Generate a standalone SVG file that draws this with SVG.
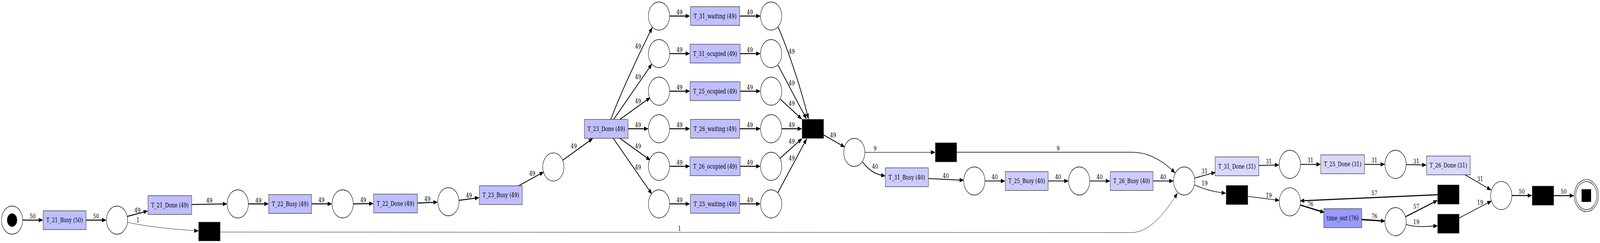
<svg xmlns="http://www.w3.org/2000/svg" width="5428" height="621" viewBox="0 0 5428 621" preserveAspectRatio="none">
<defs>
<style>
svg{width:100vw;height:100vh}
.pl{fill:#fff;stroke:#000;stroke-width:1.3}
.tr{stroke:#333;stroke-width:1.3}
.t1{fill:#bfbfff}.t2{fill:#ccccff}.t3{fill:#d8d8ff}.t4{fill:#9999ff}
.bk{fill:#000;stroke:#333;stroke-width:1}
text{font-family:"DejaVu Serif","Liberation Serif",serif;font-size:16px;fill:#000;text-anchor:middle}
.e{fill:none;stroke:#000;marker-end:url(#ah)}
.w1{stroke-width:1}.w9{stroke-width:1.3}.w19{stroke-width:1.6}.w31{stroke-width:1.9}.w40{stroke-width:2.1}.w49{stroke-width:2.3}.w50{stroke-width:2.4}.w57{stroke-width:2.7}.w76{stroke-width:3.3}
</style>
<marker id="ah" markerUnits="userSpaceOnUse" markerWidth="16" markerHeight="12" refX="0" refY="5.5" orient="auto" overflow="visible"><path d="M0,0 L15,5.5 L0,11 z" fill="#000"/></marker>
</defs>
<rect width="5428" height="621" fill="#fff"/>

<g id="connectors">
<g><path class="e w50" d="M77,562.5 L131.4,562.5"/><text x="110.7" y="558.3">50</text></g>
<g><path class="e w50" d="M292,562.5 L346,562.5"/><text x="325.9" y="558.3">50</text></g>
<g><path class="e w49" d="M432,553 L487.5,541.9"/><text x="466.5" y="542.7">49</text></g>
<g><path class="e w1" d="M433,568 C495,579 590,586 659,589.4"/><text x="467.8" y="567.7">1</text></g>
<g><path class="e w49" d="M650.4,522.7 L756,521.2"/><text x="710.3" y="518.3">49</text></g>
<g><path class="e w49" d="M842.4,521 L896.6,521"/><text x="876.8" y="517.7">49</text></g>
<g><path class="e w49" d="M1057.1,521 L1111.5,521"/><text x="1090.6" y="517">49</text></g>
<g><path class="e w49" d="M1198.2,521 L1252.4,520.5"/><text x="1232.6" y="517">49</text></g>
<g><path class="e w49" d="M1416,519 L1470.3,517"/><text x="1450" y="514.3">49</text></g>
<g><path class="e w49" d="M1557,512 L1611.4,506.5"/><text x="1591" y="505">49</text></g>
<g><path class="e w49" d="M1759.8,474.7 L1831.7,444.8"/><text x="1805.8" y="449.3">49</text></g>
<g><path class="e w49" d="M1909.4,409.3 L1998.8,360.5"/><text x="1946.6" y="379.2">49</text></g>

<g><path class="e w49" d="M2072,305 C2105,240 2160,150 2205.3,81.6"/><text x="2164.7" y="123.6">49</text></g>
<g><path class="e w49" d="M2081.7,305.3 L2202.4,173.5"/><text x="2164.7" y="201.6">49</text></g>
<g><path class="e w49" d="M2102.7,305.3 L2193.9,255.8"/><text x="2164.7" y="263.8">49</text></g>
<g><path class="e w49" d="M2130.8,329 L2185,329"/><text x="2164.7" y="325.2">49</text></g>
<g><path class="e w49" d="M2102.7,353.3 L2193.9,402.8"/><text x="2164.7" y="379">49</text></g>
<g><path class="e w49" d="M2080.3,353.3 L2202.3,486"/><text x="2164.7" y="432.9">49</text></g>

<g><path class="e w49" d="M2271.7,41 L2326,41"/><text x="2305.3" y="37.5">49</text></g>
<g><path class="e w49" d="M2271.7,137 L2326,137"/><text x="2305.3" y="133.5">49</text></g>
<g><path class="e w49" d="M2271.7,233 L2326,233"/><text x="2305.3" y="229.5">49</text></g>
<g><path class="e w49" d="M2271.7,329 L2326,329"/><text x="2305.3" y="325.5">49</text></g>
<g><path class="e w49" d="M2271.7,425 L2326,425"/><text x="2305.3" y="421.5">49</text></g>
<g><path class="e w49" d="M2271.7,521 L2326,521"/><text x="2305.3" y="517.5">49</text></g>

<g><path class="e w49" d="M2510,41 L2565.4,41"/><text x="2544" y="37.5">49</text></g>
<g><path class="e w49" d="M2510,137 L2565.4,137"/><text x="2544" y="133.5">49</text></g>
<g><path class="e w49" d="M2510,233 L2565.4,233"/><text x="2544" y="229.5">49</text></g>
<g><path class="e w49" d="M2510,329 L2565.4,329"/><text x="2544" y="325.5">49</text></g>
<g><path class="e w49" d="M2510,425 L2565.4,425"/><text x="2544" y="421.5">49</text></g>
<g><path class="e w49" d="M2510,521 L2565.4,521"/><text x="2544" y="517.5">49</text></g>

<g><path class="e w49" d="M2639.7,69.3 C2670,120 2715,220 2738.4,291.3"/><text x="2685.7" y="136.7">49</text></g>
<g><path class="e w49" d="M2639.3,166.3 L2728,292.7"/><text x="2685.7" y="217.9">49</text></g>
<g><path class="e w49" d="M2647.3,253.4 L2708.7,296.4"/><text x="2685.7" y="270.5">49</text></g>
<g><path class="e w49" d="M2652,329 L2706,329"/><text x="2685.7" y="325.2">49</text></g>
<g><path class="e w49" d="M2646,404.7 L2709.4,362"/><text x="2685.7" y="367.2">49</text></g>
<g><path class="e w49" d="M2638.4,493 L2728.8,365.8"/><text x="2685.7" y="409.9">49</text></g>

<g><path class="e w49" d="M2793.7,344.5 L2853.2,370.2"/><text x="2826.3" y="351.3">49</text></g>
<g><path class="e w9" d="M2934,389.3 L3158.2,389.3"/><text x="2968.7" y="385">9</text></g>
<g><path class="e w40" d="M2926.3,413.8 C2942,430 2962,443 2989.7,447.6"/><text x="2968.7" y="430.9">40</text></g>
<g><path class="e w9" d="M3245.5,389 L3840,389 C3888,389 3935,406 3975.4,433.9"/><text x="3589.7" y="385.3">9</text></g>
<g><path class="e w1" d="M747,593 L3840,594.3 C3893,594.3 3945,552 3985.8,504.1"/><text x="2305.3" y="590.1">1</text></g>
<g><path class="e w40" d="M3149.5,456.2 L3255.5,460.2"/><text x="3208.5" y="455">40</text></g>
<g><path class="e w40" d="M3341,462.5 L3395.3,462.5"/><text x="3374.5" y="458.3">40</text></g>
<g><path class="e w40" d="M3555.8,462.5 L3610.4,462.5"/><text x="3589.7" y="458.3">40</text></g>
<g><path class="e w40" d="M3697,462.5 L3751.5,462.5"/><text x="3730.4" y="458.3">40</text></g>
<g><path class="e w40" d="M3911.6,462.5 L3966.7,462.5"/><text x="3946" y="458.3">40</text></g>
<g><path class="e w31" d="M4053.1,455 L4109.8,443.1"/><text x="4086.6" y="442.7">31</text></g>
<g><path class="e w19" d="M4053.1,472.7 C4080,482 4110,489 4144.5,492.5"/><text x="4086.6" y="474.3">19</text></g>
<g><path class="e w31" d="M4270.5,423 L4325,421.7"/><text x="4304.4" y="418.3">31</text></g>
<g><path class="e w31" d="M4411.6,420 L4466,420"/><text x="4445.5" y="415.3">31</text></g>
<g><path class="e w19" d="M4233,501.7 L4326.1,510.8"/><text x="4304.4" y="505">19</text></g>
<g><path class="e w76" d="M4411.6,524 L4479.4,539.9"/><text x="4445.5" y="526.7">76</text></g>
<g><path class="e w57" d="M4877.2,497.7 L4424.4,512.8"/><text x="4662.5" y="499.3">57</text></g>
<g><path class="e w31" d="M4629,420 L4683.7,420"/><text x="4662.5" y="415.3">31</text></g>
<g><path class="e w31" d="M4770,420.5 L4824.7,421.5"/><text x="4804.9" y="417.7">31</text></g>
<g><path class="e w31" d="M4970,446.7 L5045.7,480"/><text x="5021.4" y="462.7">31</text></g>
<g><path class="e w76" d="M4619.6,561 L4685,564.3"/><text x="4662.5" y="558.3">76</text></g>
<g><path class="e w57" d="M4767.9,554 L4863.7,517.1"/><text x="4804.9" y="532.7">57</text></g>
<g><path class="e w19" d="M4770,573.3 C4795,581 4835,579 4862.7,577.8"/><text x="4804.9" y="573.3">19</text></g>
<g><path class="e w19" d="M4950,557.3 L5046.8,518.8"/><text x="5021.4" y="522.7">19</text></g>
<g><path class="e w50" d="M5129,499.7 L5183,499.7"/><text x="5162.6" y="495">50</text></g>
<g><path class="e w50" d="M5271,500 L5325.4,500"/><text x="5304.7" y="495">50</text></g>
</g>

<g id="p_start"><circle class="pl" cx="41" cy="562.5" r="36"/><circle cx="41" cy="562.5" r="17" fill="#000"/></g>
<g id="t_21_busy"><rect class="tr t1" x="146.4" y="538.7" width="145.6" height="48"/><text x="219.2" y="568.3">T_21_Busy (50)</text></g>
<g id="p1"><circle class="pl" cx="397" cy="562.5" r="36"/></g>
<g id="t_21_done"><rect class="tr t1" x="502.2" y="500" width="148.2" height="48"/><text x="576.3" y="529.6">T_21_Done (49)</text></g>
<g id="skip1"><rect class="bk" x="674" y="567.7" width="73" height="48"/></g>
<g id="p2"><circle class="pl" cx="806.7" cy="521" r="36"/></g>
<g id="t_22_busy"><rect class="tr t1" x="911.6" y="497.3" width="145.5" height="48"/><text x="984.4" y="527">T_22_Busy (49)</text></g>
<g id="p3"><circle class="pl" cx="1162.5" cy="521" r="36"/></g>
<g id="t_22_done"><rect class="tr t1" x="1267.4" y="496" width="148.6" height="48"/><text x="1341.7" y="525.6">T_22_Done (49)</text></g>
<g id="p4"><circle class="pl" cx="1521.2" cy="515.5" r="36"/></g>
<g id="t_23_busy"><rect class="tr t1" x="1626.3" y="474.7" width="145.5" height="48"/><text x="1699" y="504.3">T_23_Busy (49)</text></g>
<g id="p5"><circle class="pl" cx="1877.2" cy="426.7" r="36"/></g>
<g id="t_23_done"><rect class="tr t1" x="1982.6" y="305.3" width="148.2" height="48"/><text x="2056.7" y="335">T_23_Done (49)</text></g>

<g id="pa0"><circle class="pl" cx="2235.7" cy="41" r="36"/></g>
<g id="pa1"><circle class="pl" cx="2235.7" cy="137" r="36"/></g>
<g id="pa2"><circle class="pl" cx="2235.7" cy="233" r="36"/></g>
<g id="pa3"><circle class="pl" cx="2235.7" cy="329" r="36"/></g>
<g id="pa4"><circle class="pl" cx="2235.7" cy="425" r="36"/></g>
<g id="pa5"><circle class="pl" cx="2235.7" cy="521" r="36"/></g>

<g id="t_31_waiting"><rect class="tr t1" x="2342.4" y="17" width="167" height="48"/><text x="2425.9" y="46.6">T_31_waiting (49)</text></g>
<g id="t_31_ocupied"><rect class="tr t1" x="2341" y="113" width="170" height="48"/><text x="2425.9" y="142.6">T_31_ocupied (49)</text></g>
<g id="t_25_ocupied"><rect class="tr t1" x="2341" y="209" width="170" height="48"/><text x="2425.9" y="238.6">T_25_ocupied (49)</text></g>
<g id="t_26_waiting"><rect class="tr t1" x="2342.4" y="305" width="167" height="48"/><text x="2425.9" y="334.6">T_26_waiting (49)</text></g>
<g id="t_26_ocupied"><rect class="tr t1" x="2341" y="401" width="170" height="48"/><text x="2425.9" y="430.6">T_26_ocupied (49)</text></g>
<g id="t_25_waiting"><rect class="tr t1" x="2342.4" y="497" width="167" height="48"/><text x="2425.9" y="526.6">T_25_waiting (49)</text></g>

<g id="pb0"><circle class="pl" cx="2616.1" cy="41" r="36"/></g>
<g id="pb1"><circle class="pl" cx="2616.1" cy="137" r="36"/></g>
<g id="pb2"><circle class="pl" cx="2616.1" cy="233" r="36"/></g>
<g id="pb3"><circle class="pl" cx="2616.1" cy="329" r="36"/></g>
<g id="pb4"><circle class="pl" cx="2616.1" cy="425" r="36"/></g>
<g id="pb5"><circle class="pl" cx="2616.1" cy="521" r="36"/></g>

<g id="sync"><rect class="bk" x="2721" y="305" width="73" height="48.6"/></g>
<g id="p7"><circle class="pl" cx="2898.2" cy="389.5" r="36"/></g>
<g id="skip2"><rect class="bk" x="3173.2" y="365" width="72.3" height="48.7"/></g>
<g id="t_31_busy"><rect class="tr t2" x="3003.5" y="428.9" width="146" height="48.3"/><text x="3076.5" y="458.6">T_31_Busy (40)</text></g>
<g id="p8"><circle class="pl" cx="3305.3" cy="462.5" r="36"/></g>
<g id="t_25_busy"><rect class="tr t2" x="3410.3" y="438.7" width="145.5" height="48"/><text x="3483" y="468.3">T_25_Busy (40)</text></g>
<g id="p9"><circle class="pl" cx="3661.2" cy="462.5" r="36"/></g>
<g id="t_26_busy"><rect class="tr t2" x="3766.5" y="438.7" width="145.1" height="48"/><text x="3839" y="468.3">T_26_Busy (40)</text></g>
<g id="p10"><circle class="pl" cx="4017.4" cy="462.5" r="36"/></g>
<g id="t_31_done"><rect class="tr t3" x="4122.3" y="401" width="148.2" height="48.3"/><text x="4196.4" y="430.8">T_31_Done (31)</text></g>
<g id="skip3"><rect class="bk" x="4159.8" y="474" width="73.2" height="48.7"/></g>
<g id="p11"><circle class="pl" cx="4375.9" cy="420" r="36"/></g>
<g id="p12"><circle class="pl" cx="4375.9" cy="515.8" r="36"/></g>
<g id="t_25_done"><rect class="tr t3" x="4480.8" y="395.7" width="148.2" height="48.3"/><text x="4555" y="425.4">T_25_Done (31)</text></g>
<g id="time_out"><rect class="tr t4" x="4491" y="533.3" width="128.6" height="48.4"/><text x="4555.3" y="563.1">time_out (76)</text></g>
<g id="p13"><circle class="pl" cx="4734.4" cy="420" r="36"/></g>
<g id="p15"><circle class="pl" cx="4734.4" cy="566.5" r="36"/></g>
<g id="t_26_done"><rect class="tr t3" x="4839.7" y="398.7" width="148.2" height="48"/><text x="4913.8" y="428.3">T_26_Done (31)</text></g>
<g id="retry"><rect class="bk" x="4877.2" y="472.7" width="72.8" height="49"/></g>
<g id="skip4"><rect class="bk" x="4877.2" y="547.3" width="72.8" height="48.7"/></g>
<g id="p14"><circle class="pl" cx="5093" cy="499.7" r="36"/></g>
<g id="end_t"><rect class="bk" x="5198" y="475.7" width="73" height="48.6"/></g>
<g id="p_end"><circle class="pl" cx="5381.6" cy="499.8" r="41"/><circle class="pl" cx="5381.6" cy="499.8" r="36"/><rect x="5365.5" y="483.6" width="32.2" height="32.4" fill="#000"/></g>
</svg>
